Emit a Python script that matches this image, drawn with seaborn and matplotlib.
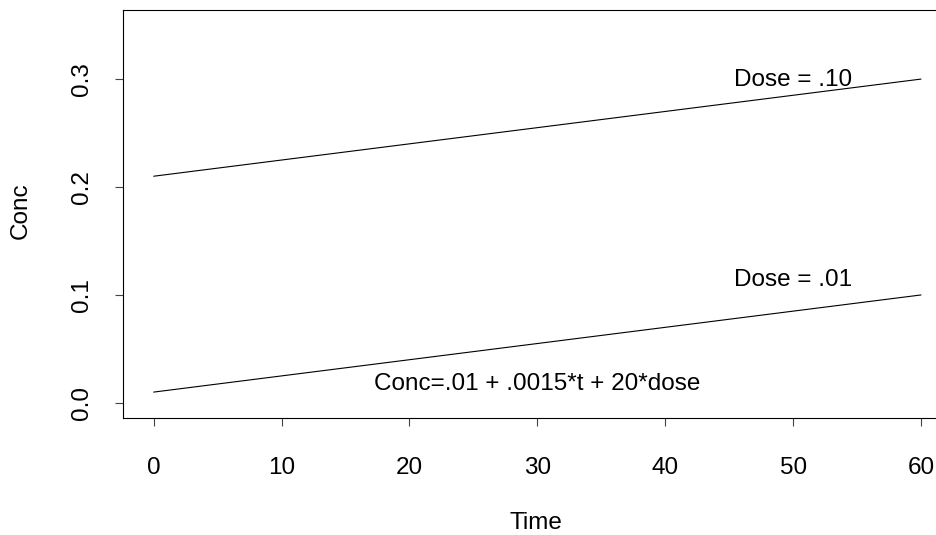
import matplotlib
matplotlib.use("Agg")
import matplotlib.pyplot as plt
import seaborn as sns
import pandas as pd

time = [0, 60]
conc_dose_01 = [0.01, 0.10]
conc_dose_10 = [0.21, 0.30]
dose_labels = ["Dose = .01", "Dose = .10"]
label_x = [50, 50]
label_y = [0.114, 0.299]
formula = "Conc=.01 + .0015*t + 20*dose"
formula_x, formula_y = 30, 0.0176
x_ticks = [0, 10, 20, 30, 40, 50, 60]
y_ticks = [0.0, 0.1, 0.2, 0.3]
y_tick_labels = ["0.0", "0.1", "0.2", "0.3"]

df = pd.DataFrame({
    "Time": time + time,
    "Conc": conc_dose_01 + conc_dose_10,
    "Dose": [dose_labels[0]] * len(time) + [dose_labels[1]] * len(time),
})

sns.set_theme(style="white")
plt.rcParams['font.family'] = ['Liberation Sans', 'DejaVu Sans']

FS = 17.5
W, H = 937, 535
fig = plt.figure(figsize=(W / 100, H / 100), dpi=100)
left, right, top, bottom = 123, 951.7, 10, 418
ax = fig.add_axes([left / W, (H - bottom) / H, (right - left) / W, (bottom - top) / H])

sns.lineplot(data=df, x="Time", y="Conc", hue="Dose", palette=["black", "black"],
             linewidth=0.8, legend=False, ax=ax)

ax.set_xlim(-2.4, 62.4)
ax.set_ylim(-0.014, 0.364)
ax.set_xticks(x_ticks)
ax.set_xticklabels([str(t) for t in x_ticks])
ax.set_yticks(y_ticks)
ax.set_yticklabels(y_tick_labels, rotation=90, va="center")

for s in ax.spines.values():
    s.set_color("black")
    s.set_linewidth(0.8)

ax.tick_params(axis="both", direction="out", length=6, width=0.8, color="#444444",
               labelsize=FS, labelcolor="black")
ax.tick_params(axis="x", pad=22)
ax.tick_params(axis="y", pad=15.5)
ax.tick_params(axis="both", which="both", bottom=True, left=True)

for lx, ly, lt in zip(label_x, label_y, dose_labels):
    ax.text(lx, ly, lt, ha="center", va="center", fontsize=FS, color="black")
ax.text(formula_x, formula_y, formula, ha="center", va="center", fontsize=FS, color="black")

ax.set_xlabel("Time", fontsize=FS, color="black")
ax.set_ylabel("Conc", fontsize=FS, color="black")
ax.xaxis.set_label_coords(((536 - left) / (right - left)), (bottom - 523) / (bottom - top))
ax.xaxis.label.set_va("center")
ax.yaxis.set_label_coords((21 - left) / (right - left), (bottom - 211) / (bottom - top))
ax.yaxis.label.set_va("center")

fig.savefig("out.png", dpi=100)
